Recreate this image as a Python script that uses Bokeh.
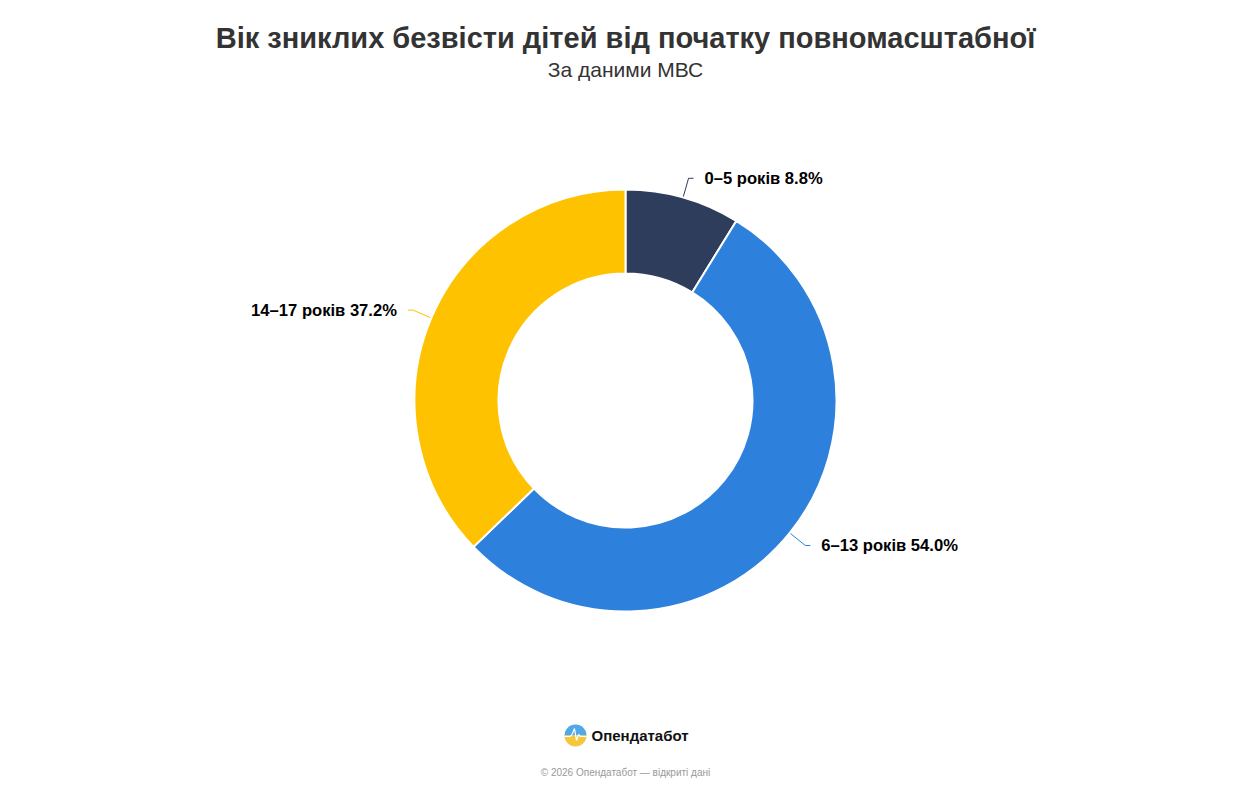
import math
from bokeh.plotting import figure
from bokeh.models import Range1d
from bokeh.core.properties import value
from bokeh.embed import file_html
from bokeh.resources import INLINE

# ---- data ----
categories = ["0–5 років", "6–13 років", "14–17 років"]
shares = [8.8, 54.0, 37.2]
colors = ["#2E3D5C", "#2D80DC", "#FFC200"]
title_text = "Вік зниклих безвісти дітей від початку повномасштабної"
subtitle_text = "За даними МВС"
brand_text = "Опендатабот"
footer_text = "© 2026 Опендатабот — відкриті дані"

W, H = 1240, 785
FONT = value("Liberation Sans")

def Y(py):
    return H - py

def X(px):
    return px

p = figure(width=W, height=H, output_backend="svg", toolbar_location=None,
           x_range=Range1d(0, W), y_range=Range1d(0, H), min_border=0)
p.axis.visible = False
p.grid.visible = False
p.outline_line_color = None
p.background_fill_color = "white"

cx, cy = X(625), Y(400)
R_out, R_in = 211, 127

total = sum(shares)
start = math.pi / 2
starts, ends, mids = [], [], []
for s in shares:
    a = s / total * 2 * math.pi
    starts.append(start)
    ends.append(start - a)
    mids.append(start - a / 2)
    start -= a

p.annular_wedge(x=[cx] * 3, y=[cy] * 3, inner_radius=R_in, outer_radius=R_out,
                inner_radius_units="screen", outer_radius_units="screen",
                start_angle=starts, end_angle=ends, direction="clock",
                fill_color=colors, line_color="white", line_width=2)

# leader lines and labels
for cat, s, m, c in zip(categories, shares, mids, colors):
    x1 = cx + (R_out + 1) * math.cos(m)
    y1 = cy + (R_out + 1) * math.sin(m)
    x2 = cx + (R_out + 20) * math.cos(m)
    y2 = cy + (R_out + 20) * math.sin(m)
    right = math.cos(m) >= 0
    x3 = x2 + (5 if right else -5)
    p.line([x1, x2, x3], [y1, y2, y2], line_color=c, line_width=1)
    p.text(x=[x3 + (11 if right else -11)], y=[y2], text=[f"{cat} {s:.1f}%"],
           text_font=FONT, text_font_size="16.6px", text_font_style="bold",
           text_color="#000000", text_align="left" if right else "right",
           text_baseline="middle")

# titles
p.text(x=[X(625)], y=[Y(37)], text=[title_text], text_font=FONT,
       text_font_size="29px", text_font_style="bold", text_color="#333333",
       text_align="center", text_baseline="middle")
p.text(x=[X(625)], y=[Y(69)], text=[subtitle_text], text_font=FONT,
       text_font_size="21px", text_color="#333333",
       text_align="center", text_baseline="middle")

# logo
lx, ly = X(575), Y(735)
p.wedge(x=[lx], y=[ly], radius=11, radius_units="screen", start_angle=0,
        end_angle=math.pi, fill_color="#4FA8E8", line_color=None)
p.wedge(x=[lx], y=[ly], radius=11, radius_units="screen", start_angle=math.pi,
        end_angle=2 * math.pi, fill_color="#F5C73A", line_color=None)
px_ = [lx - 11, lx - 5, lx - 3, lx - 1, lx + 1, lx + 3, lx + 5, lx + 11]
py_ = [ly - 1, ly - 1, ly + 2, ly + 7, ly - 5, ly + 1, ly - 1, ly - 1]
p.line(px_, py_, line_color="white", line_width=1.2)
p.text(x=[X(591)], y=[Y(735)], text=[brand_text], text_font=FONT,
       text_font_size="15px", text_font_style="bold", text_color="#111111",
       text_align="left", text_baseline="middle")
p.text(x=[X(625)], y=[Y(772)], text=[footer_text], text_font=FONT,
       text_font_size="10px", text_color="#999999",
       text_align="center", text_baseline="middle")

open("out.html", "w").write(file_html(p, INLINE))
